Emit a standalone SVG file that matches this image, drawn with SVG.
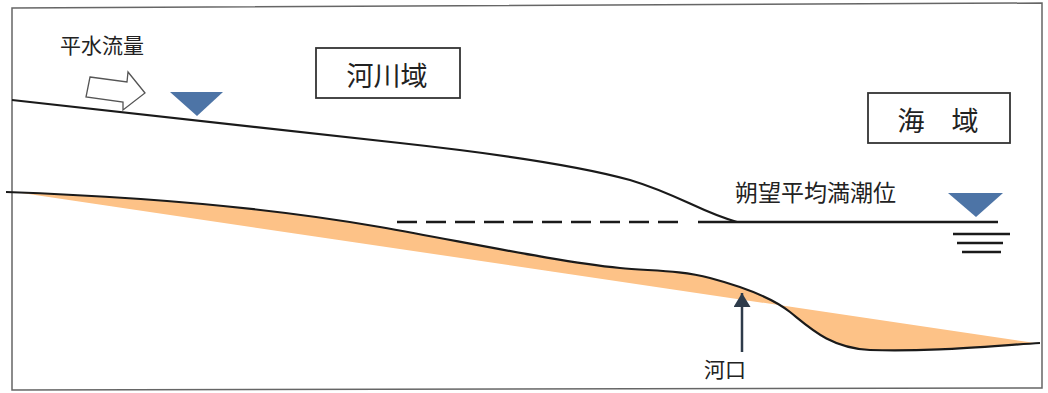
<svg xmlns="http://www.w3.org/2000/svg" width="1048" height="393" viewBox="0 0 1048 393">
<defs>
<style>
.ln{fill:none;stroke:#1a1a1a;stroke-width:2.2}
.box{fill:#fff;stroke:#333;stroke-width:1.8}
.t{font-family:"Noto Sans CJK JP","Noto Sans CJK SC",sans-serif;fill:#222}
.tri{fill:#4d74a6}
</style>
<marker id="ah" viewBox="0 0 10 10" refX="10" refY="5" markerWidth="14" markerHeight="17" markerUnits="userSpaceOnUse" preserveAspectRatio="none" orient="auto">
<path d="M0,0 L10,5 L0,10 Z" fill="#2e3b4a"/>
</marker>
</defs>
<rect width="1048" height="393" fill="#fff"/>
<path d="M12,8 L1042,3 L1042,388 L12,390 Z" fill="none" stroke="#666" stroke-width="1.5"/>
<g id="sediment">
<path d="M6,192 C120,196 260,206 380,227 C480,245 560,262 620,268 C650,271 680,270 710,278 C740,286 770,296 790,312 C810,328 830,348 870,350 C930,352 990,346 1040,343 L1035,343 L15,192 Z" fill="#fdc287" stroke="none"/>
</g>
<g id="connectors">
<path id="riverbed" class="ln" d="M6,192 C120,196 260,206 380,227 C480,245 560,262 620,268 C650,271 680,270 710,278 C740,286 770,296 790,312 C810,328 830,348 870,350 C930,352 990,346 1040,343"/>
<path id="water-surface" class="ln" d="M12,100 L400,143 C500,154 580,166 630,180 C680,195 700,212 737,222"/>
<line id="tide-dashed" x1="397" y1="222" x2="683" y2="222" stroke="#1a1a1a" stroke-width="2.5" stroke-dasharray="20 9"/>
<line id="tide-solid" x1="698" y1="222" x2="998" y2="222" stroke="#1a1a1a" stroke-width="2.5"/>
<line id="estuary-arrow" x1="742" y1="352" x2="742" y2="293" stroke="#2e3b4a" stroke-width="2.5" marker-end="url(#ah)"/>
</g>
<g id="flow-arrow">
<path d="M90,77 L127,82 L128,72 L145,93 L123,110 L123,102 L86,97 Z" fill="#fff" stroke="#555" stroke-width="1.3"/>
<text class="t" x="60" y="53" font-size="21">平水流量</text>
</g>
<g id="river-level">
<path class="tri" d="M170,92 L223,92 L197,116 Z"/>
</g>
<g id="river-area">
<rect class="box" x="316" y="48" width="144" height="50"/>
<text class="t" x="387" y="86" font-size="27" text-anchor="middle">河川域</text>
</g>
<g id="sea-area">
<rect class="box" x="868" y="93" width="142" height="50"/>
<text class="t" x="938" y="131" font-size="27" text-anchor="middle">海　域</text>
</g>
<g id="tide-label">
<text class="t" x="735" y="201" font-size="23">朔望平均満潮位</text>
</g>
<g id="sea-level">
<path class="tri" d="M948,193 L1003,193 L976,217 Z"/>
<line x1="953" y1="234" x2="1010" y2="234" stroke="#1a1a1a" stroke-width="2.5"/>
<line x1="957" y1="243" x2="1003" y2="243" stroke="#1a1a1a" stroke-width="2.5"/>
<line x1="962" y1="252" x2="1001" y2="252" stroke="#1a1a1a" stroke-width="2.5"/>
</g>
<g id="estuary">
<text class="t" x="704" y="377" font-size="21">河口</text>
</g>
</svg>
